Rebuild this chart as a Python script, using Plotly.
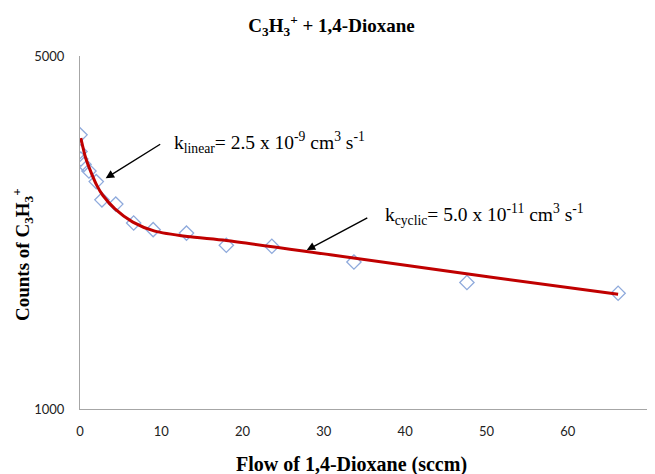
import math
import plotly.graph_objects as go

# Measured data (flow in sccm, counts of C3H3+)
flow = [0, 0, 0.1, 0.5, 1.1, 2.0, 2.7, 4.4, 6.6, 9.0, 13.1, 18.0, 23.6, 33.7, 47.6, 66.2]
counts = [3490, 3235, 3125, 3050, 2960, 2820, 2595, 2545, 2335, 2265, 2230, 2110, 2100, 1955, 1780, 1695]

# Fitted curve
fit_flow = [0.1, 0.7, 1.35, 2.1, 2.8, 4.3, 6.5, 9.2, 13.2, 18.0, 30.8, 50.4, 66.2]
fit_counts = [3440, 3140, 2945, 2765, 2650, 2490, 2345, 2250, 2195, 2156, 2020, 1825, 1688]

x_ticks = [0, 10, 20, 30, 40, 50, 60, 70]
y_ticks = [1000, 5000]

title_text = "C<sub>3</sub>H<sub>3</sub><sup>+</sup> + 1,4-Dioxane"
x_title = "Flow of 1,4-Dioxane (sccm)"
y_title = "Counts of C<sub>3</sub>H<sub>3</sub><sup>+</sup>"
k_linear = "k<sub>linear</sub>= 2.5 x 10<sup>-9</sup> cm<sup>3</sup> s<sup>-1</sup>"
k_cyclic = "k<sub>cyclic</sub>= 5.0 x 10<sup>-11</sup> cm<sup>3</sup> s<sup>-1</sup>"

# arrow tips (flow, counts)
arrow_linear_tip = (3.16, 2863)
arrow_cyclic_tip = (27.9, 2064)

serif = "Liberation Serif, Times New Roman, serif"
sans = "Lato, Liberation Sans, sans-serif"

fig = go.Figure()
fig.add_trace(go.Scatter(
    x=flow, y=counts, mode="markers",
    marker=dict(symbol="diamond-open", size=11, color="#8FAADC", line=dict(width=1.3)),
    showlegend=False, hoverinfo="x+y"))
fig.add_trace(go.Scatter(
    x=fit_flow, y=fit_counts, mode="lines",
    line=dict(color="#C00000", width=3, shape="spline", smoothing=0.7),
    showlegend=False))

fig.update_layout(
    width=647, height=466,
    margin=dict(l=72, r=6, t=48, b=65),
    paper_bgcolor="white", plot_bgcolor="white",
    title=dict(text=title_text, x=0.5, xref="container", xanchor="center",
               y=1 - 17 / 466, yref="container", yanchor="middle",
               font=dict(family=serif, size=19, color="black", weight="bold")),
    xaxis=dict(range=[0, 70], tickvals=x_ticks, showgrid=False, zeroline=False,
               showline=True, linecolor="#A6A6A6", linewidth=1,
               ticks="outside", ticklen=10, tickcolor="rgba(0,0,0,0)",
               tickfont=dict(family=sans, size=13, color="#222"), automargin=False),
    yaxis=dict(type="log", range=[3, math.log10(5000)], tickvals=y_ticks, ticktext=["1000", "5000"],
               showgrid=False, zeroline=False,
               showline=True, linecolor="#A6A6A6", linewidth=1,
               ticks="outside", ticklen=12, tickcolor="rgba(0,0,0,0)",
               tickfont=dict(family=sans, size=13, color="#222"), automargin=False),
)

fig.add_annotation(text=x_title, xref="paper", yref="paper", x=0.478, y=-56 / 353,
                   xanchor="center", yanchor="middle", showarrow=False,
                   font=dict(family=serif, size=20, color="black", weight="bold"))
fig.add_annotation(text=y_title, xref="paper", yref="paper", x=-0.102, y=0.439,
                   xanchor="center", yanchor="middle", showarrow=False, textangle=-90,
                   font=dict(family=serif, size=19, color="black", weight="bold"))

# arrows (log axis: annotation y in log10 units)
for (tx, ty), (dx, dy) in [(arrow_linear_tip, (56, -35)), (arrow_cyclic_tip, (62, -33))]:
    fig.add_annotation(text="", x=tx, y=math.log10(ty), xref="x", yref="y",
                       ax=dx, ay=dy, showarrow=True, arrowhead=2, arrowsize=1.2,
                       arrowwidth=1.4, arrowcolor="black")
# labels
fig.add_annotation(text=k_linear, xref="paper", yref="paper",
                   x=0.1617, y=0.756, xanchor="left", yanchor="middle",
                   showarrow=False, font=dict(family=serif, size=19.5, color="black"))
fig.add_annotation(text=k_cyclic, xref="paper", yref="paper",
                   x=0.5325, y=0.5496, xanchor="left", yanchor="middle",
                   showarrow=False, font=dict(family=serif, size=19.5, color="black"))

fig.write_html("out.html")
